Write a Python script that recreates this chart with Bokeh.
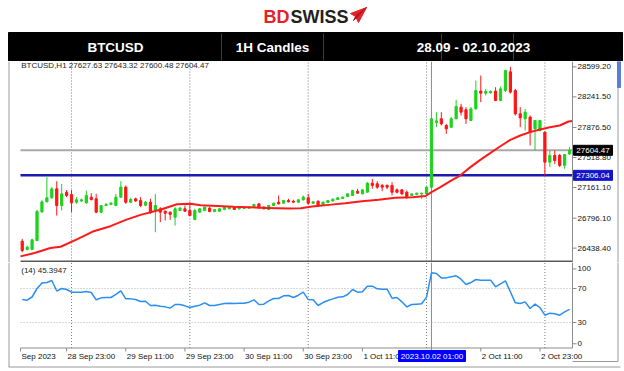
from bokeh.plotting import figure
from bokeh.layouts import column
from bokeh.models import Range1d
from bokeh.embed import file_html
from bokeh.resources import INLINE
from bokeh.core.properties import value

# ---------------- data ----------------
opens = [26521, 26422, 26422, 26529, 26870, 26990, 27038, 27145, 26946, 27105,
         27077, 26986, 27000, 26978, 27046, 27026, 26867, 26946, 26960, 26946,
         27046, 27165, 26986, 27026, 27006, 26950, 26986, 26887, 26907, 26879,
         26867, 26807, 26887, 26907, 26887, 26780, 26867, 26887, 26915, 26875,
         26879, 26899, 26907, 26927, 26907, 26910, 26915, 26935, 26966, 26927,
         26899, 26946, 26986, 26974, 27006, 26998, 26986, 27014, 27038, 26974,
         26998, 26954, 26982, 27000, 27018, 27030, 27054, 27066, 27117, 27085,
         27105, 27213, 27205, 27185, 27185, 27185, 27133, 27133, 27105, 27066,
         27077, 27085, 27085, 27165, 27935, 27980, 27900, 27880, 27980, 28119,
         28087, 27960, 28099, 28310, 28286, 28290, 28310, 28198, 28317, 28540,
         28317, 28039, 27980, 28000, 27860, 27841, 27821, 27463, 27543, 27543,
         27424, 27560]
highs = [26549, 26470, 26549, 26895, 27010, 27284, 27165, 27236, 27205, 27130,
         27130, 27046, 27030, 27125, 27093, 27085, 26950, 26975, 26985, 27085,
         27236, 27185, 27038, 27040, 27046, 27000, 27026, 27085, 26927, 26887,
         26875, 26927, 26930, 26946, 26986, 26907, 26915, 26935, 26930, 26905,
         26915, 26932, 26932, 26935, 26932, 26935, 26938, 26966, 26972, 26935,
         26950, 26980, 27066, 27010, 27026, 27014, 27020, 27066, 27085, 27000,
         27006, 26995, 27010, 27030, 27046, 27054, 27093, 27135, 27145, 27140,
         27225, 27264, 27236, 27205, 27200, 27225, 27150, 27140, 27125, 27093,
         27100, 27100, 27175, 27990, 28059, 28059, 27920, 28000, 28206, 28159,
         28119, 28119, 28437, 28496, 28337, 28320, 28357, 28365, 28564, 28600,
         28337, 28119, 28099, 28019, 27965, 27965, 27830, 27602, 27602, 27562,
         27562, 27643]
lows = [26390, 26410, 26415, 26520, 26860, 26985, 27030, 26827, 26887, 27046,
        26867, 26966, 26990, 26966, 27006, 26855, 26855, 26940, 26950, 26940,
        27040, 26966, 26975, 26990, 26927, 26940, 26847, 26628, 26748, 26767,
        26775, 26708, 26880, 26870, 26820, 26770, 26860, 26880, 26865, 26868,
        26872, 26890, 26900, 26892, 26900, 26905, 26910, 26930, 26915, 26900,
        26890, 26940, 26960, 26966, 26985, 26980, 26978, 27006, 26958, 26966,
        26927, 26946, 26975, 26995, 27010, 27026, 27046, 27060, 27085, 27080,
        27100, 27145, 27145, 27117, 27140, 27066, 27090, 27075, 27026, 27055,
        27070, 27026, 27080, 27150, 27880, 27900, 27801, 27870, 27975, 28019,
        27920, 27952, 28090, 28178, 28258, 28280, 28190, 28190, 28298, 28280,
        28019, 27880, 27841, 27662, 27602, 27830, 27304, 27404, 27443, 27404,
        27384, 27550]
closes = [26410, 26450, 26537, 26875, 26990, 27038, 27145, 26946, 27085, 27066,
          26978, 27014, 27014, 27066, 27018, 26867, 26946, 26958, 26975, 27046,
          27165, 26986, 27018, 27000, 26946, 26986, 26867, 26946, 26867, 26855,
          26840, 26907, 26915, 26879, 26827, 26887, 26907, 26927, 26875, 26899,
          26907, 26927, 26927, 26899, 26927, 26927, 26930, 26958, 26919, 26907,
          26946, 26974, 26966, 27006, 26990, 26986, 27014, 27046, 26974, 26990,
          26939, 26986, 27006, 27022, 27038, 27046, 27085, 27125, 27094, 27133,
          27213, 27185, 27165, 27165, 27165, 27105, 27105, 27085, 27046, 27085,
          27093, 27093, 27165, 27980, 27955, 27920, 27860, 27980, 28127, 28059,
          27980, 28099, 28317, 28286, 28305, 28305, 28198, 28337, 28556, 28298,
          28039, 27992, 28059, 27821, 27960, 27960, 27463, 27543, 27483, 27424,
          27553, 27604.47]

ma_x = [-0.35, 2.5, 5.7, 7.8, 11.3, 14.5, 17.9, 21, 24, 28, 31.4, 34.1, 36.2,
        42.9, 49.7, 54, 56.5, 58.8, 62.2, 65.5, 68.9, 72.3, 75.7, 79.2, 81.8,
        83, 84.8, 86.8, 88.8, 90.9, 92.9, 94.9, 96.9, 99, 101, 103, 105, 107,
        109, 110.8, 111.5]
ma_y = [26340, 26380, 26440, 26455, 26549, 26640, 26700, 26775, 26835, 26895,
        26962, 26968, 26950, 26932, 26918, 26910, 26915, 26934, 26954, 26974,
        26998, 27014, 27038, 27046, 27060, 27106, 27165, 27237, 27304, 27404,
        27491, 27570, 27650, 27729, 27781, 27821, 27853, 27880, 27900, 27948,
        27955]

rsi = [57, 56.3, 60, 70, 76.6, 77, 79.4, 67, 70, 68.8,
       65.7, 65.7, 65.7, 66.5, 65.3, 56.7, 59, 59.4, 59.4, 63,
       67.2, 57.8, 57.8, 57, 54.7, 55, 50, 50.4, 49.2, 48.4,
       46.9, 51.2, 51.2, 49.6, 47.6, 49.2, 50.4, 53.1, 50, 50,
       51.2, 52.3, 52.7, 52.3, 52.7, 52.7, 53.9, 56.7, 51.2, 51.6,
       55.5, 58.2, 58.2, 61.4, 61.8, 59.4, 62.1, 65.7, 57, 56.7,
       50, 53.5, 55.9, 57.8, 59.8, 60.2, 63, 68.8, 65.7, 66.1,
       72.7, 72.7, 69.6, 69.2, 69.2, 58.6, 59.4, 54.3, 48.4, 51.2,
       51.6, 52, 59.8, 88.4, 87.6, 82.5, 82.5, 83.7, 84.9, 81,
       74.7, 77, 80.6, 79.8, 79.8, 79.8, 72, 75.5, 79, 66.1,
       53.1, 52.3, 54.3, 46.5, 51.6, 47.6, 38.6, 41, 40.2, 38.6,
       42.5, 45.39]

price_ticks = [28599.20, 28241.50, 27876.50, 27518.80, 27161.10, 26796.10, 26438.40]
current_price = 27604.47
level_price = 27306.04
day_separators = [10, 34, 58, 82, 106]
time_tick_idx = [-0.35, 9, 21, 33, 45, 57, 69, 93, 105]
time_tick_labels = ["Sep 2023", "28 Sep 23:00", "29 Sep 11:00", "29 Sep 23:00",
                    "30 Sep 11:00", "30 Sep 23:00", "1 Oct 11:00", "2 Oct 11:00",
                    "2 Oct 23:00"]
cursor_idx = 83
cursor_label = "2023.10.02 01:00"
rsi_levels = [30, 70]
rsi_tick_pos = [5, 30, 70, 93]
rsi_tick_labels = ["0", "30", "70", "100"]
top_info = "BTCUSD,H1  27627.63 27643.32 27600.48 27604.47"
rsi_info = "(14) 45.3947"
header_texts = ["BTCUSD", "1H Candles", "28.09 - 02.10.2023"]

# ---------------- layout geometry (pixels of the page) ----------------
FONT = "Liberation Sans"
GREEN = "#1ed21e"
RED = "#ff1414"
AXIS = "#8c8c8c"
W = 624
X0, X1 = -0.35, 111.6          # bar-index range of the pane (x=20 .. x=572)
PX = 552 / (X1 - X0)           # pixels per bar


def ix(x):                     # page x -> bar index
    return X0 + (x - 20) / PX


MAIN_TOP, MAIN_H = 61, 201
P_TOP, PPP = 28663, 11.92      # price at pane top, price per pixel


def py(y):                     # page y -> price
    return P_TOP - (y - MAIN_TOP) * PPP


RSI_TOP, RSI_H = 262, 109


def ry(y):                     # page y -> RSI value
    return (347.5 - y) / 0.85


idx = list(range(len(opens)))
colors = [GREEN if c >= o else RED for o, c in zip(opens, closes)]
tops = [max(o, c) for o, c in zip(opens, closes)]
bots = [min(o, c) for o, c in zip(opens, closes)]


def bare(fig):
    fig.grid.visible = False
    fig.outline_line_color = None
    fig.min_border = 0
    return fig


# ---------------- header ----------------
h = bare(figure(width=W, height=MAIN_TOP, x_range=Range1d(0, W), y_range=Range1d(MAIN_TOP, 0),
                toolbar_location=None, output_backend="svg",
                x_axis_location=None, y_axis_location=None))
h.text(x=[289], y=[16], text=["BD"], text_color="#e3222a", text_font=value(FONT),
       text_font_style="bold", text_font_size="18px", text_align="right",
       text_baseline="middle")
h.text(x=[290], y=[16], text=["SWISS"], text_color="#231f20", text_font=value(FONT),
       text_font_style="bold", text_font_size="18px", text_align="left",
       text_baseline="middle")
h.patch(x=[350, 366, 358, 355], y=[13, 7, 22, 16], color="#e3222a")
h.patch(x=[355, 366, 353], y=[16, 7, 20], color="#b5141b")
h.quad(left=[8], right=[622], top=[32], bottom=[61], color="black")
h.segment(x0=[221, 323, 441, 513], y0=[33] * 4, x1=[221, 323, 441, 513], y1=[60] * 4,
          line_color="#3c3c3c", line_width=1)
h.text(x=[115, 272, 473], y=[47, 47, 47], text=header_texts, text_color="white",
       text_font=value(FONT), text_font_style="bold", text_font_size="13.5px",
       text_align="center", text_baseline="middle")

# ---------------- main price pane ----------------
xr = Range1d(ix(0), ix(W))
p = bare(figure(width=W, height=MAIN_H, x_range=xr,
                y_range=Range1d(py(MAIN_TOP + MAIN_H), py(MAIN_TOP)),
                toolbar_location=None, output_backend="svg",
                x_axis_location=None, y_axis_location=None))
ptop, pbot = py(MAIN_TOP), py(MAIN_TOP + MAIN_H)
p.segment(x0=day_separators, y0=[py(261)] * 5, x1=day_separators, y1=[ptop] * 5,
          line_color="#7a7a7a", line_dash="1 2", line_width=1)
p.segment(x0=[X0], y0=[current_price], x1=[X1], y1=[current_price],
          line_color="#a8a8a8", line_width=2)
p.segment(x0=[X0], y0=[level_price], x1=[X1], y1=[level_price],
          line_color="#1c1cb0", line_width=2.5)
p.segment(x0=[cursor_idx], y0=[pbot], x1=[cursor_idx], y1=[ptop],
          line_color="#7f7fff", line_width=1)
p.segment(x0=idx, y0=lows, x1=idx, y1=highs, line_color=colors, line_width=1)
p.vbar(x=idx, top=tops, bottom=bots, width=0.45, fill_color=colors, line_color=colors,
       line_width=1)
p.line(ma_x, ma_y, line_color="#ff1a1a", line_width=2)
# pane separator and frame
p.segment(x0=[X0], y0=[py(261)], x1=[X1], y1=[py(261)], line_color="#5a5a5a", line_width=2)
p.segment(x0=[X1], y0=[pbot], x1=[X1], y1=[ptop], line_color=AXIS, line_width=1)
p.segment(x0=[ix(8.5)], y0=[pbot], x1=[ix(8.5)], y1=[ptop], line_color="#9a9a9a", line_width=1)
p.segment(x0=[ix(617.5)], y0=[pbot], x1=[ix(617.5)], y1=[ptop], line_color="#9a9a9a", line_width=1)
p.quad(left=[ix(617)], right=[ix(620)], top=[ptop], bottom=[py(87)], color="#5b7fd6")
# price axis
p.segment(x0=[X1] * len(price_ticks), y0=price_ticks, x1=[ix(576)] * len(price_ticks),
          y1=price_ticks, line_color=AXIS, line_width=1)
p.text(x=[ix(577)] * len(price_ticks), y=price_ticks, text=[f"{v:.2f}" for v in price_ticks],
       text_font=value(FONT), text_font_size="8px", text_color="#111111",
       text_align="left", text_baseline="middle")
# price boxes
for val, col in ((current_price, "black"), (level_price, "#1414c8")):
    p.quad(left=[ix(573)], right=[ix(612)], top=[val + 5 * PPP], bottom=[val - 5 * PPP],
           color=col)
    p.text(x=[ix(592.5)], y=[val], text=[f"{val:.2f}"], text_font=value(FONT),
           text_font_size="8px", text_color="white", text_align="center",
           text_baseline="middle")
# symbol info line, partly hidden under the header bar
p.text(x=[X0 + 0.15], y=[py(64.5)], text=[top_info], text_font=value(FONT),
       text_font_size="8px", text_color="#222222", text_align="left",
       text_baseline="alphabetic")

# ---------------- RSI pane ----------------
r = bare(figure(width=W, height=RSI_H, x_range=xr,
                y_range=Range1d(ry(RSI_TOP + RSI_H), ry(RSI_TOP)),
                toolbar_location=None, output_backend="svg",
                x_axis_location=None, y_axis_location=None))
rtop = ry(RSI_TOP)
r.segment(x0=[X0] * 2, y0=rsi_levels, x1=[X1] * 2, y1=rsi_levels,
          line_color="#b4b4b4", line_dash="1 2", line_width=1)
r.segment(x0=day_separators, y0=[0] * 5, x1=day_separators, y1=[rtop] * 5,
          line_color="#7a7a7a", line_dash="1 2", line_width=1)
r.segment(x0=[cursor_idx], y0=[ry(350)], x1=[cursor_idx], y1=[rtop],
          line_color="#7f7fff", line_width=1)
r.line(idx, rsi, line_color="#2a8ff0", line_width=1.5)
r.text(x=[X0 + 0.15], y=[ry(270)], text=[rsi_info], text_font=value(FONT),
       text_font_size="8px", text_color="#222222", text_align="left",
       text_baseline="middle")
# axes of the RSI pane
r.segment(x0=[X1], y0=[0], x1=[X1], y1=[rtop], line_color=AXIS, line_width=1)
r.segment(x0=[X0], y0=[0], x1=[X1], y1=[0], line_color=AXIS, line_width=1)
r.segment(x0=[X1] * 4, y0=rsi_tick_pos, x1=[ix(576)] * 4, y1=rsi_tick_pos,
          line_color=AXIS, line_width=1)
r.text(x=[ix(577)] * 4, y=rsi_tick_pos, text=rsi_tick_labels, text_font=value(FONT),
       text_font_size="8px", text_color="#111111", text_align="left",
       text_baseline="middle")
r.segment(x0=time_tick_idx, y0=[0] * len(time_tick_idx), x1=time_tick_idx,
          y1=[ry(351)] * len(time_tick_idx), line_color=AXIS, line_width=1)
r.text(x=[t + 1 / PX for t in time_tick_idx], y=[ry(355.5)] * len(time_tick_idx),
       text=time_tick_labels, text_font=value(FONT), text_font_size="8px",
       text_color="#111111", text_align="left", text_baseline="middle")
# cursor time box
r.quad(left=[ix(398)], right=[ix(465)], top=[ry(350)], bottom=[ry(361)], color="#0000ff")
r.text(x=[cursor_idx + 0.5 / PX], y=[ry(355.5)], text=[cursor_label], text_font=value(FONT),
       text_font_size="8px", text_color="white", text_align="center",
       text_baseline="middle")
# outer frame lines
r.segment(x0=[ix(8.5), ix(617.5), ix(572), ix(8)],
          y0=[ry(366.5), ry(361), ry(361), ry(366.5)],
          x1=[ix(8.5), ix(617.5), ix(617.5), ix(620)],
          y1=[rtop, rtop, ry(361), ry(366.5)],
          line_color="#9a9a9a", line_width=1)

layout = column(h, p, r, spacing=0)
open("out.html", "w").write(file_html(layout, INLINE))
